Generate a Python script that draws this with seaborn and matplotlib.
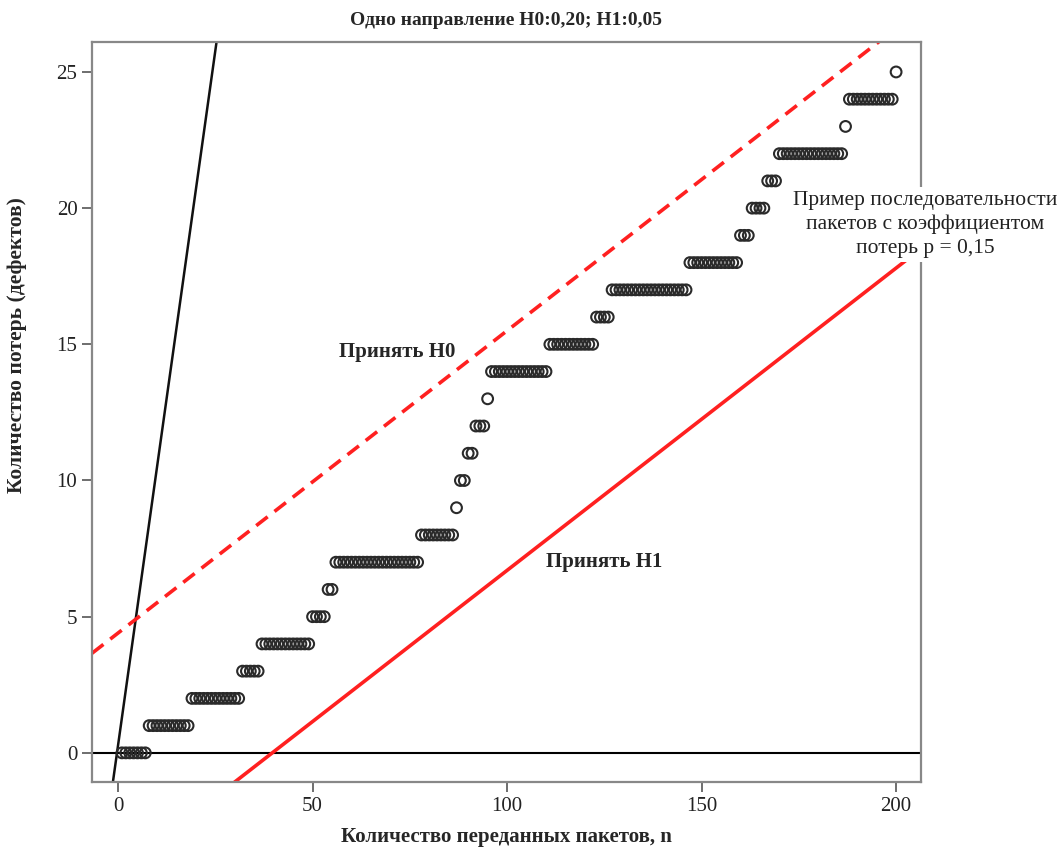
import numpy as np
import pandas as pd
import seaborn as sns
import matplotlib.pyplot as plt

# first packet number n at which the cumulative loss count reaches 0, 1, 2, ...
level_first_n = [1, 8, 19, 32, 37, 50, 54, 56, 78, 87, 88, 90, 92, 95, 96,
                 111, 123, 127, 147, 160, 163, 167, 170, 187, 188, 200]
n_total = 200

# decision lines: y = slope * n + intercept
line_names = ['reference', 'accept_h0', 'accept_h1']
line_slopes = [1.02, 0.111, 0.111]
line_intercepts = [0.28, 4.4, -4.4]

x_ticks = [0, 50, 100, 150, 200]
y_ticks = [0, 5, 10, 15, 20, 25]

# build the packet sequence
n_values = np.arange(1, n_total + 1)
losses = np.searchsorted(level_first_n, n_values, side='right') - 1
seq_df = pd.DataFrame({'n': n_values, 'losses': losses})

sns.set_style('white')
plt.rcParams['font.family'] = ['Liberation Serif', 'DejaVu Serif']

fig = plt.figure(figsize=(10.64, 8.48), dpi=100)
ax = fig.add_axes([92 / 1064, 1 - 782 / 848, (921 - 92) / 1064, (782 - 42) / 848])

xlim = (-6.7, 206.4)
ylim = (-1.07, 26.1)
xs = np.array(xlim)

# horizontal zero line
ax.axhline(0, color='black', lw=1.5, zorder=1)

# reference line and SPRT boundaries
ax.plot(xs, line_slopes[0] * xs + line_intercepts[0], color='#111111', lw=1.8, zorder=2)
ax.plot(xs, line_slopes[1] * xs + line_intercepts[1], color='#ff2020', lw=2.6,
        dashes=(4, 2.4), zorder=2)
ax.plot(xs, line_slopes[2] * xs + line_intercepts[2], color='#ff2020', lw=2.6, zorder=2)

# packet sequence
sns.scatterplot(data=seq_df, x='n', y='losses', ax=ax, s=60, marker='o',
                facecolor='none', edgecolor='#2a2a2a', linewidth=1.5, zorder=3)

ax.set_xlim(*xlim)
ax.set_ylim(*ylim)
ax.set_xticks(x_ticks)
ax.set_yticks(y_ticks)
ax.tick_params(axis='both', which='major', direction='out', length=7, width=1.2,
               color='#555555', labelsize=15, labelcolor='#222222',
               bottom=True, left=True)
for sp in ax.spines.values():
    sp.set_color('#888888')
    sp.set_linewidth(1.6)

ax.set_xlabel('Количество переданных пакетов, n', fontsize=15, fontweight='bold',
              labelpad=8)
ax.set_ylabel('Количество потерь (дефектов)', fontsize=15.5, fontweight='bold')
ax.yaxis.set_label_coords(-0.078, 0.59)
ax.set_title('Одно направление H0:0,20; H1:0,05', fontsize=14, fontweight='bold',
             pad=12)

ax.text(71.7, 14.7, 'Принять H0', fontsize=15, fontweight='bold',
        ha='center', va='center')
ax.text(125, 7.0, 'Принять H1', fontsize=15, fontweight='bold',
        ha='center', va='center')
ax.text(207.5, 19.4, 'Пример последовательности\nпакетов с коэффициентом\nпотерь p = 0,15',
        fontsize=15.5, ha='center', va='center', linespacing=1.3, color='#222222',
        bbox=dict(facecolor='white', edgecolor='none', pad=3), clip_on=False, zorder=5)

fig.savefig('out.png', dpi=100)
